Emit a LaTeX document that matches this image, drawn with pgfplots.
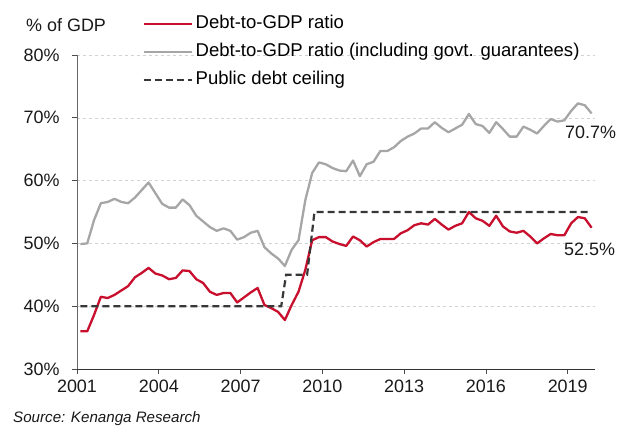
\documentclass[border=0pt]{standalone}
\usepackage{fontspec}
\setmainfont{Liberation Sans}
\usepackage{pgfplots}
\pgfplotsset{compat=1.18}
\definecolor{debtred}{RGB}{200,16,46}
\definecolor{guargray}{RGB}{166,166,166}
\definecolor{ceilgray}{RGB}{55,55,55}
\definecolor{gridgray}{RGB}{210,210,210}

\pgfplotstableread{
x red gray
2001.125 36.0 49.9
2001.375 36.0 50.0
2001.625 38.6 53.7
2001.875 41.5 56.4
2002.125 41.3 56.6
2002.375 41.8 57.1
2002.625 42.5 56.6
2002.875 43.2 56.4
2003.125 44.6 57.3
2003.375 45.3 58.5
2003.625 46.1 59.7
2003.875 45.2 58.0
2004.125 44.9 56.3
2004.375 44.3 55.7
2004.625 44.5 55.7
2004.875 45.7 57.0
2005.125 45.6 56.1
2005.375 44.3 54.4
2005.625 43.7 53.5
2005.875 42.3 52.6
2006.125 41.8 52.0
2006.375 42.1 52.4
2006.625 42.1 52.0
2006.875 40.6 50.6
2007.125 41.4 51.0
2007.375 42.2 51.7
2007.625 42.9 52.0
2007.875 40.2 49.4
2008.125 39.7 48.4
2008.375 39.1 47.6
2008.625 37.8 46.4
2008.875 40.2 49.0
2009.125 42.3 50.5
2009.375 45.8 56.9
2009.625 50.5 61.2
2009.875 51.0 62.9
2010.125 51.0 62.6
2010.375 50.3 62.0
2010.625 49.9 61.6
2010.875 49.6 61.5
2011.125 51.1 63.2
2011.375 50.5 60.7
2011.625 49.5 62.6
2011.875 50.2 63.0
2012.125 50.7 64.7
2012.375 50.7 64.7
2012.625 50.7 65.3
2012.875 51.6 66.3
2013.125 52.1 67.0
2013.375 52.9 67.5
2013.625 53.2 68.3
2013.875 53.0 68.3
2014.125 53.9 69.3
2014.375 53.0 68.4
2014.625 52.2 67.7
2014.875 52.8 68.3
2015.125 53.2 68.9
2015.375 55.0 70.6
2015.625 54.0 69.0
2015.875 53.6 68.7
2016.125 52.8 67.6
2016.375 54.4 69.3
2016.625 52.7 68.2
2016.875 51.9 67.0
2017.125 51.7 67.0
2017.375 52.0 68.6
2017.625 51.1 68.1
2017.875 50.0 67.5
2018.125 50.8 68.7
2018.375 51.5 69.8
2018.625 51.3 69.4
2018.875 51.3 69.6
2019.125 53.2 71.1
2019.375 54.2 72.3
2019.625 54.0 72.0
2019.875 52.5 70.7
}\debttable

\pgfplotstableread{
x ceil
2001.125 40
2008.49 40
2008.67 45
2009.44 45
2009.71 55
2019.875 55
}\ceiltable

\begin{document}
\begin{tikzpicture}
\useasboundingbox (0,0) rectangle (629bp,-428bp);
\begin{axis}[
  at={(77bp,-369bp)}, anchor=south west,
  scale only axis, width=518bp, height=314bp,
  xmin=2001, xmax=2020, ymin=30, ymax=80,
  clip mode=individual,
  axis x line*=bottom, axis y line*=left,
  axis line style={-},
  x axis line style={draw=black!80, line width=0.9bp},
  y axis line style={draw=black!60, line width=0.9bp},
  xtick={2001,2004,...,2019},
  ytick={30,40,...,80},
  tick align=outside,
  major tick length=5bp,
  tick style={draw=black!70, line width=0.8bp},
  ymajorgrids,
  grid style={draw=gridgray, dashed, line width=0.6bp, dash pattern=on 3bp off 3bp},
  tick label style={font=\fontsize{18}{20}\selectfont, text=black!90},
  /pgf/number format/assume math mode=true,
  xticklabel style={/pgf/number format/set thousands separator={}, yshift=-2bp},
  yticklabel={\pgfmathprintnumber{\tick}\%},
  yticklabel style={xshift=-9bp},
  legend style={at={(0.1258,1.1256)}, anchor=north west, draw=none, fill=none,
    font=\fontsize{18.6}{20}\selectfont, inner sep=0pt, row sep=11bp,
    nodes={inner xsep=3bp, inner ysep=0pt, text height=13bp, text depth=4bp}},
  legend cell align=left,
  legend image code/.code={\draw[#1] (0bp,0bp) -- (48bp,0bp);},
]
\addplot[debtred, line width=2.3bp, line join=round] table[x=x, y=red] {\debttable};
\addlegendentry{Debt-to-GDP ratio}
\addplot[guargray, line width=2.3bp, line join=round] table[x=x, y=gray] {\debttable};
\addlegendentry{Debt-to-GDP ratio (including govt. guarantees)}
\addplot[ceilgray, line width=2.2bp, dash pattern=on 7bp off 4bp] table[x=x, y=ceil] {\ceiltable};
\addlegendentry{Public debt ceiling}
\node[anchor=base west, inner sep=0pt, font=\fontsize{18}{20}\selectfont, text=black!90] at (axis cs:2018.9,66.7) {70.7\%};
\node[anchor=base west, inner sep=0pt, font=\fontsize{18}{20}\selectfont, text=black!90] at (axis cs:2018.86,48.07) {52.5\%};
\end{axis}
\node[anchor=base west, inner sep=0pt, font=\fontsize{18}{20}\selectfont, text=black!90] at (26bp,-31bp) {\% of GDP};
\node[anchor=base west, inner sep=0pt, font=\fontsize{15.2}{17}\selectfont\itshape, text=black!90] at (13bp,-422bp) {Source: Kenanga Research};
\end{tikzpicture}
\end{document}
